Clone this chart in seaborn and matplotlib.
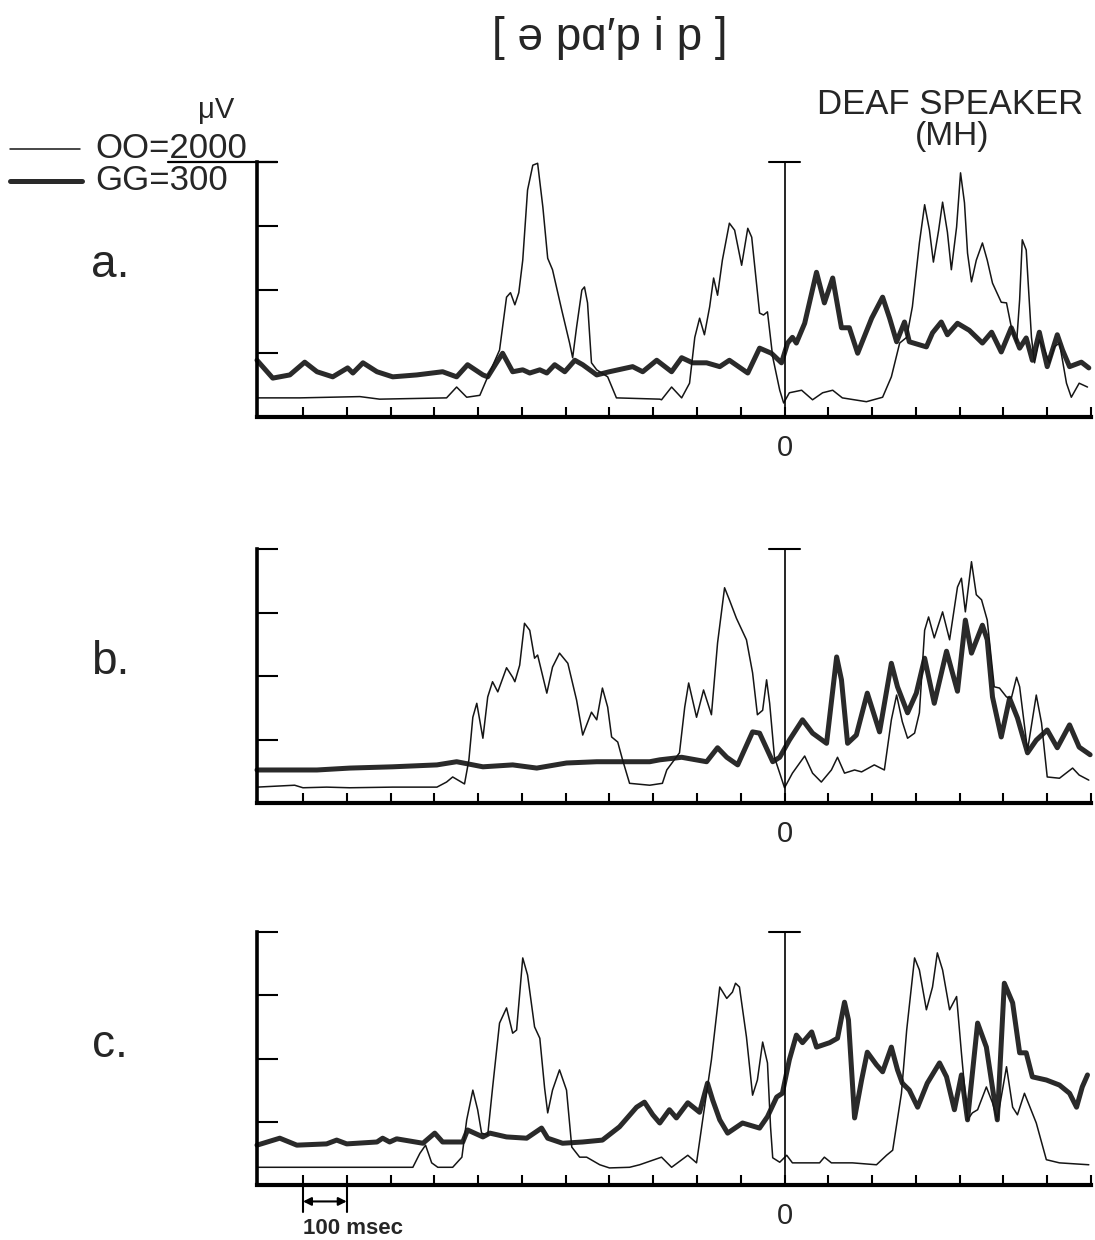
import numpy as np
import pandas as pd
import matplotlib
matplotlib.use("Agg")
import matplotlib.pyplot as plt
import seaborn as sns
from matplotlib.lines import Line2D

sns.set_style("white")
plt.rcParams['font.family'] = ['Liberation Sans', 'DejaVu Sans']

# ---------------- data (time in ms relative to 0, amplitude in axis units 0-4) ----------------
panel_labels = ["a.", "b.", "c."]
series_names = ["OO", "GG"]
legend_labels = ["OO=2000", "GG=300"]
xtick_values = list(range(-1100, 800, 100))

a_oo = [(-1205, 0.30), (-1107, 0.30), (-970, 0.32), (-925, 0.28), (-772, 0.30), (-749, 0.47), (-726, 0.31),
        (-696, 0.34), (-678, 0.63), (-651, 1.05), (-635, 1.88), (-626, 1.95), (-616, 1.76), (-607, 1.95),
        (-598, 2.46), (-587, 3.56), (-575, 3.95), (-564, 3.98), (-552, 3.29), (-541, 2.49), (-530, 2.31),
        (-509, 1.68), (-491, 1.16), (-484, 0.93), (-475, 1.41), (-463, 1.99), (-457, 2.04), (-450, 1.79),
        (-441, 0.85), (-429, 0.74), (-404, 0.63), (-384, 0.30), (-285, 0.28), (-281, 0.27), (-258, 0.47),
        (-235, 0.30), (-217, 0.53), (-205, 1.25), (-194, 1.55), (-183, 1.29), (-171, 1.73), (-162, 2.18),
        (-153, 1.91), (-142, 2.46), (-126, 3.04), (-114, 2.93), (-98, 2.38), (-84, 2.96), (-75, 2.82),
        (-57, 1.63), (-48, 1.60), (-39, 1.65), (-27, 0.94), (-11, 0.42), (-2, 0.22), (11, 0.38), (39, 0.42),
        (64, 0.27), (87, 0.38), (110, 0.42), (132, 0.30), (187, 0.24), (224, 0.31), (244, 0.63), (263, 1.16),
        (279, 1.25), (292, 1.73), (308, 2.73), (320, 3.33), (331, 2.93), (340, 2.43), (352, 2.93), (361, 3.37),
        (372, 2.90), (381, 2.31), (393, 2.98), (402, 3.83), (411, 3.36), (418, 2.57), (427, 2.12), (438, 2.46),
        (452, 2.73), (463, 2.46), (475, 2.10), (495, 1.80), (507, 1.79), (518, 1.41), (530, 1.16), (537, 1.84),
        (543, 2.78), (552, 2.62), (564, 1.25), (571, 0.85), (582, 1.21), (594, 1.05), (605, 0.85), (616, 1.10),
        (628, 1.16), (644, 0.53), (655, 0.31), (673, 0.53), (692, 0.47)]

a_gg = [(-1205, 0.89), (-1169, 0.61), (-1130, 0.66), (-1096, 0.86), (-1068, 0.71), (-1032, 0.63), (-998, 0.77),
        (-986, 0.69), (-963, 0.85), (-931, 0.71), (-895, 0.63), (-840, 0.66), (-781, 0.71), (-749, 0.63),
        (-724, 0.82), (-689, 0.66), (-678, 0.63), (-658, 0.85), (-644, 1.00), (-621, 0.71), (-598, 0.74),
        (-582, 0.69), (-559, 0.74), (-543, 0.69), (-525, 0.82), (-502, 0.71), (-479, 0.89), (-461, 0.82),
        (-429, 0.66), (-400, 0.71), (-347, 0.79), (-324, 0.71), (-292, 0.89), (-258, 0.71), (-235, 0.93),
        (-210, 0.85), (-178, 0.85), (-148, 0.79), (-126, 0.89), (-84, 0.69), (-57, 1.08), (-30, 1.00),
        (-7, 0.85), (7, 1.16), (18, 1.25), (27, 1.16), (46, 1.47), (73, 2.27), (91, 1.79), (110, 2.18),
        (130, 1.40), (148, 1.40), (167, 1.00), (199, 1.55), (224, 1.88), (240, 1.55), (256, 1.18), (274, 1.49),
        (285, 1.18), (324, 1.10), (338, 1.32), (358, 1.49), (372, 1.29), (395, 1.47), (422, 1.36), (452, 1.16),
        (473, 1.33), (495, 1.02), (518, 1.40), (537, 1.08), (552, 1.24), (566, 0.89), (582, 1.33), (600, 0.79),
        (623, 1.29), (635, 1.05), (651, 0.79), (678, 0.86), (695, 0.77)]

b_oo = [(-1205, 0.25), (-1119, 0.28), (-1100, 0.24), (-1046, 0.25), (-993, 0.24), (-895, 0.25), (-794, 0.25),
        (-772, 0.33), (-758, 0.41), (-731, 0.30), (-721, 0.68), (-712, 1.35), (-703, 1.57), (-689, 1.02),
        (-678, 1.67), (-667, 1.91), (-655, 1.75), (-635, 2.13), (-621, 1.98), (-616, 1.91), (-605, 2.17),
        (-594, 2.83), (-582, 2.72), (-571, 2.28), (-564, 2.33), (-543, 1.73), (-530, 2.14), (-514, 2.36),
        (-495, 2.20), (-475, 1.62), (-461, 1.07), (-441, 1.43), (-429, 1.31), (-416, 1.81), (-404, 1.51),
        (-395, 1.04), (-381, 0.96), (-370, 0.68), (-354, 0.31), (-308, 0.28), (-279, 0.31), (-269, 0.52),
        (-240, 0.79), (-228, 1.51), (-219, 1.89), (-201, 1.35), (-185, 1.78), (-167, 1.39), (-153, 2.52),
        (-137, 3.39), (-126, 3.20), (-110, 2.91), (-87, 2.57), (-73, 2.05), (-62, 1.39), (-50, 1.46),
        (-41, 1.94), (-34, 1.57), (-23, 0.72), (-11, 0.47), (0, 0.24), (18, 0.47), (46, 0.74), (64, 0.47),
        (84, 0.33), (107, 0.52), (121, 0.72), (137, 0.47), (160, 0.52), (176, 0.49), (205, 0.60), (228, 0.52),
        (244, 1.31), (256, 1.70), (269, 1.28), (281, 1.02), (297, 1.10), (308, 1.42), (320, 2.72), (329, 2.93),
        (342, 2.60), (361, 3.01), (377, 2.57), (395, 3.40), (404, 3.54), (413, 3.01), (427, 3.80), (438, 3.28),
        (450, 3.20), (463, 2.88), (479, 1.83), (491, 1.81), (507, 1.67), (518, 1.65), (530, 1.98), (537, 1.83),
        (555, 0.83), (575, 1.70), (587, 1.26), (600, 0.41), (628, 0.39), (658, 0.55), (673, 0.44), (695, 0.36)]

b_gg = [(-1205, 0.52), (-1068, 0.52), (-993, 0.55), (-895, 0.57), (-794, 0.60), (-749, 0.65), (-689, 0.57),
        (-621, 0.60), (-566, 0.55), (-498, 0.63), (-429, 0.65), (-370, 0.65), (-308, 0.65), (-285, 0.68),
        (-235, 0.72), (-178, 0.65), (-153, 0.87), (-132, 0.72), (-107, 0.60), (-73, 1.12), (-57, 1.10),
        (-27, 0.65), (-11, 0.72), (11, 0.99), (41, 1.31), (64, 1.10), (96, 0.94), (119, 2.30), (130, 1.94),
        (144, 0.94), (164, 1.07), (189, 1.73), (217, 1.12), (244, 2.20), (258, 1.83), (281, 1.42), (301, 1.73),
        (320, 2.28), (342, 1.57), (370, 2.39), (395, 1.76), (413, 2.88), (427, 2.36), (452, 2.80), (463, 2.57),
        (475, 1.67), (495, 1.04), (514, 1.65), (532, 1.34), (555, 0.79), (575, 0.99), (600, 1.15), (623, 0.87),
        (651, 1.23), (673, 0.88), (698, 0.76)]

c_oo = [(-1205, 0.28), (-849, 0.28), (-833, 0.50), (-820, 0.63), (-806, 0.35), (-792, 0.28), (-758, 0.28),
        (-737, 0.44), (-726, 1.03), (-712, 1.50), (-701, 1.19), (-692, 0.82), (-678, 0.79), (-667, 1.53),
        (-651, 2.56), (-635, 2.80), (-621, 2.40), (-612, 2.45), (-598, 3.59), (-587, 3.32), (-571, 2.50),
        (-559, 2.32), (-548, 1.53), (-541, 1.14), (-530, 1.50), (-514, 1.82), (-498, 1.50), (-486, 0.60),
        (-468, 0.44), (-452, 0.44), (-422, 0.32), (-400, 0.27), (-354, 0.28), (-331, 0.32), (-281, 0.44),
        (-258, 0.28), (-221, 0.47), (-201, 0.35), (-187, 1.03), (-167, 1.98), (-148, 3.13), (-132, 2.95),
        (-119, 3.05), (-112, 3.19), (-103, 3.13), (-87, 2.34), (-73, 1.42), (-62, 1.66), (-50, 2.26),
        (-39, 1.93), (-32, 0.92), (-27, 0.43), (-11, 0.36), (5, 0.47), (18, 0.35), (80, 0.35), (91, 0.44),
        (107, 0.35), (155, 0.35), (210, 0.32), (233, 0.47), (247, 0.55), (267, 1.45), (279, 2.45), (297, 3.59),
        (308, 3.40), (324, 2.77), (338, 3.13), (349, 3.67), (361, 3.40), (377, 2.77), (393, 2.98), (404, 2.09),
        (418, 1.03), (429, 1.14), (441, 1.19), (461, 1.55), (475, 1.30), (486, 1.03), (507, 1.87), (521, 1.23),
        (532, 1.11), (548, 1.45), (575, 0.98), (598, 0.40), (628, 0.35), (695, 0.32)]

c_gg = [(-1205, 0.63), (-1153, 0.74), (-1114, 0.63), (-1046, 0.65), (-1023, 0.71), (-1000, 0.65), (-931, 0.68),
        (-918, 0.74), (-902, 0.68), (-886, 0.73), (-826, 0.66), (-799, 0.82), (-781, 0.68), (-735, 0.68),
        (-724, 0.87), (-689, 0.76), (-673, 0.82), (-635, 0.76), (-589, 0.74), (-555, 0.90), (-541, 0.74),
        (-507, 0.66), (-461, 0.68), (-416, 0.71), (-377, 0.92), (-338, 1.23), (-320, 1.31), (-301, 1.11),
        (-285, 0.98), (-263, 1.19), (-247, 1.06), (-221, 1.30), (-194, 1.15), (-176, 1.61), (-164, 1.34),
        (-148, 1.03), (-130, 0.82), (-96, 0.98), (-57, 0.90), (-39, 1.08), (-18, 1.39), (-5, 1.45), (11, 1.98),
        (27, 2.37), (41, 2.25), (62, 2.42), (73, 2.18), (103, 2.25), (121, 2.32), (137, 2.89), (146, 2.61),
        (160, 1.06), (176, 1.66), (189, 2.10), (210, 1.90), (224, 1.79), (244, 2.18), (258, 1.82), (269, 1.61),
        (285, 1.50), (304, 1.23), (326, 1.61), (354, 1.93), (370, 1.71), (388, 1.19), (404, 1.74), (418, 1.03),
        (441, 2.56), (461, 2.18), (486, 1.03), (502, 3.19), (521, 2.88), (537, 2.09), (552, 2.09), (566, 1.71),
        (598, 1.66), (628, 1.58), (651, 1.45), (667, 1.23), (680, 1.55), (692, 1.74)]

panels = [(a_oo, a_gg), (b_oo, b_gg), (c_oo, c_gg)]

# ---------------- layout ----------------
W, H = 1095, 1240
fig = plt.figure(figsize=(W / 100, H / 100), dpi=100)

def fx(px):
    return px / W

def fy(py):
    return 1 - py / H

ax_left, ax_right = 257, 1091
panel_px = [(162, 417), (549, 803), (932, 1185)]
label_py = [265, 662, 1045]

thin_kw = dict(color="#151515", linewidth=1.1)
thick_kw = dict(color="#2a2a2a", linewidth=3.6)

axes = []
for i, ((oo, gg), (top, bot)) in enumerate(zip(panels, panel_px)):
    ax = fig.add_axes([fx(ax_left), fy(bot), fx(ax_right - ax_left), (bot - top) / H])
    axes.append(ax)
    df_oo = pd.DataFrame(oo, columns=["t", "v"])
    df_gg = pd.DataFrame(gg, columns=["t", "v"])
    sns.lineplot(data=df_gg, x="t", y="v", ax=ax, estimator=None, sort=False,
                 solid_joinstyle="round", solid_capstyle="round", **thick_kw)
    sns.lineplot(data=df_oo, x="t", y="v", ax=ax, estimator=None, sort=False,
                 solid_joinstyle="round", **thin_kw)
    for ln in ax.get_lines():
        ln.set_clip_on(False)
    ax.set_xlim(-1205, 700)
    ax.set_ylim(0, 4)
    ax.set_xlabel("")
    ax.set_ylabel("")
    ax.set_yticks([1, 2, 3, 4])
    ax.set_yticklabels([])
    ax.set_xticks(xtick_values)
    ax.set_xticklabels(["0" if t == 0 else "" for t in xtick_values])
    ax.tick_params(axis="y", direction="in", length=15, width=1.5, color="k", left=True)
    ax.tick_params(axis="x", direction="in", length=7, width=1.5, color="k", bottom=True,
                   pad=12, labelsize=21)
    for s in ["top", "right"]:
        ax.spines[s].set_visible(False)
    ax.spines["left"].set_linewidth(2.6)
    ax.spines["bottom"].set_linewidth(3.0)
    ax.spines["left"].set_color("k")
    ax.spines["bottom"].set_color("k")
    ax.patch.set_alpha(0)
    # zero reference line with cap
    ax.plot([0, 0], [0, 4], color="k", lw=1.2, clip_on=False)
    ax.plot([-36, 36], [4, 4], color="k", lw=1.5, clip_on=False)
    fig.text(fx(110), fy(label_py[i]), panel_labels[i], ha="center", va="center", fontsize=33)

# 100 msec scale marker under panel c
axc = axes[2]
axc.plot([-1100, -1100], [0, -0.43], color="k", lw=1.5, clip_on=False)
axc.plot([-1000, -1000], [0, -0.43], color="k", lw=1.5, clip_on=False)
axc.annotate("", xy=(-1000, -0.26), xytext=(-1100, -0.26), annotation_clip=False,
             arrowprops=dict(arrowstyle="<|-|>", color="k", lw=1.5, mutation_scale=12,
                             shrinkA=0, shrinkB=0))
fig.text(fx(353), fy(1229), "100 msec", ha="center", va="center", fontsize=16, fontweight="bold")

# titles
fig.text(fx(610), fy(38), "[ ə pɑ′p i p ]", ha="center", va="center", fontsize=33)
fig.text(fx(950), fy(105), "DEAF SPEAKER", ha="center", va="center", fontsize=25)
fig.text(fx(952), fy(137), "(MH)", ha="center", va="center", fontsize=24)

# legend / calibration
fig.text(fx(216), fy(110), "μV", ha="center", va="center", fontsize=21)
fig.text(fx(95), fy(149), legend_labels[0], ha="left", va="center", fontsize=25)
fig.text(fx(95), fy(180), legend_labels[1], ha="left", va="center", fontsize=25)
fig.add_artist(Line2D([fx(10), fx(80)], [fy(149), fy(149)], **thin_kw))
fig.add_artist(Line2D([fx(10), fx(82)], [fy(181), fy(181)], **thick_kw))
fig.add_artist(Line2D([fx(168), fx(277)], [fy(162), fy(162)], color="k", lw=1.6))

fig.savefig("out.png", dpi=100, facecolor="white")
